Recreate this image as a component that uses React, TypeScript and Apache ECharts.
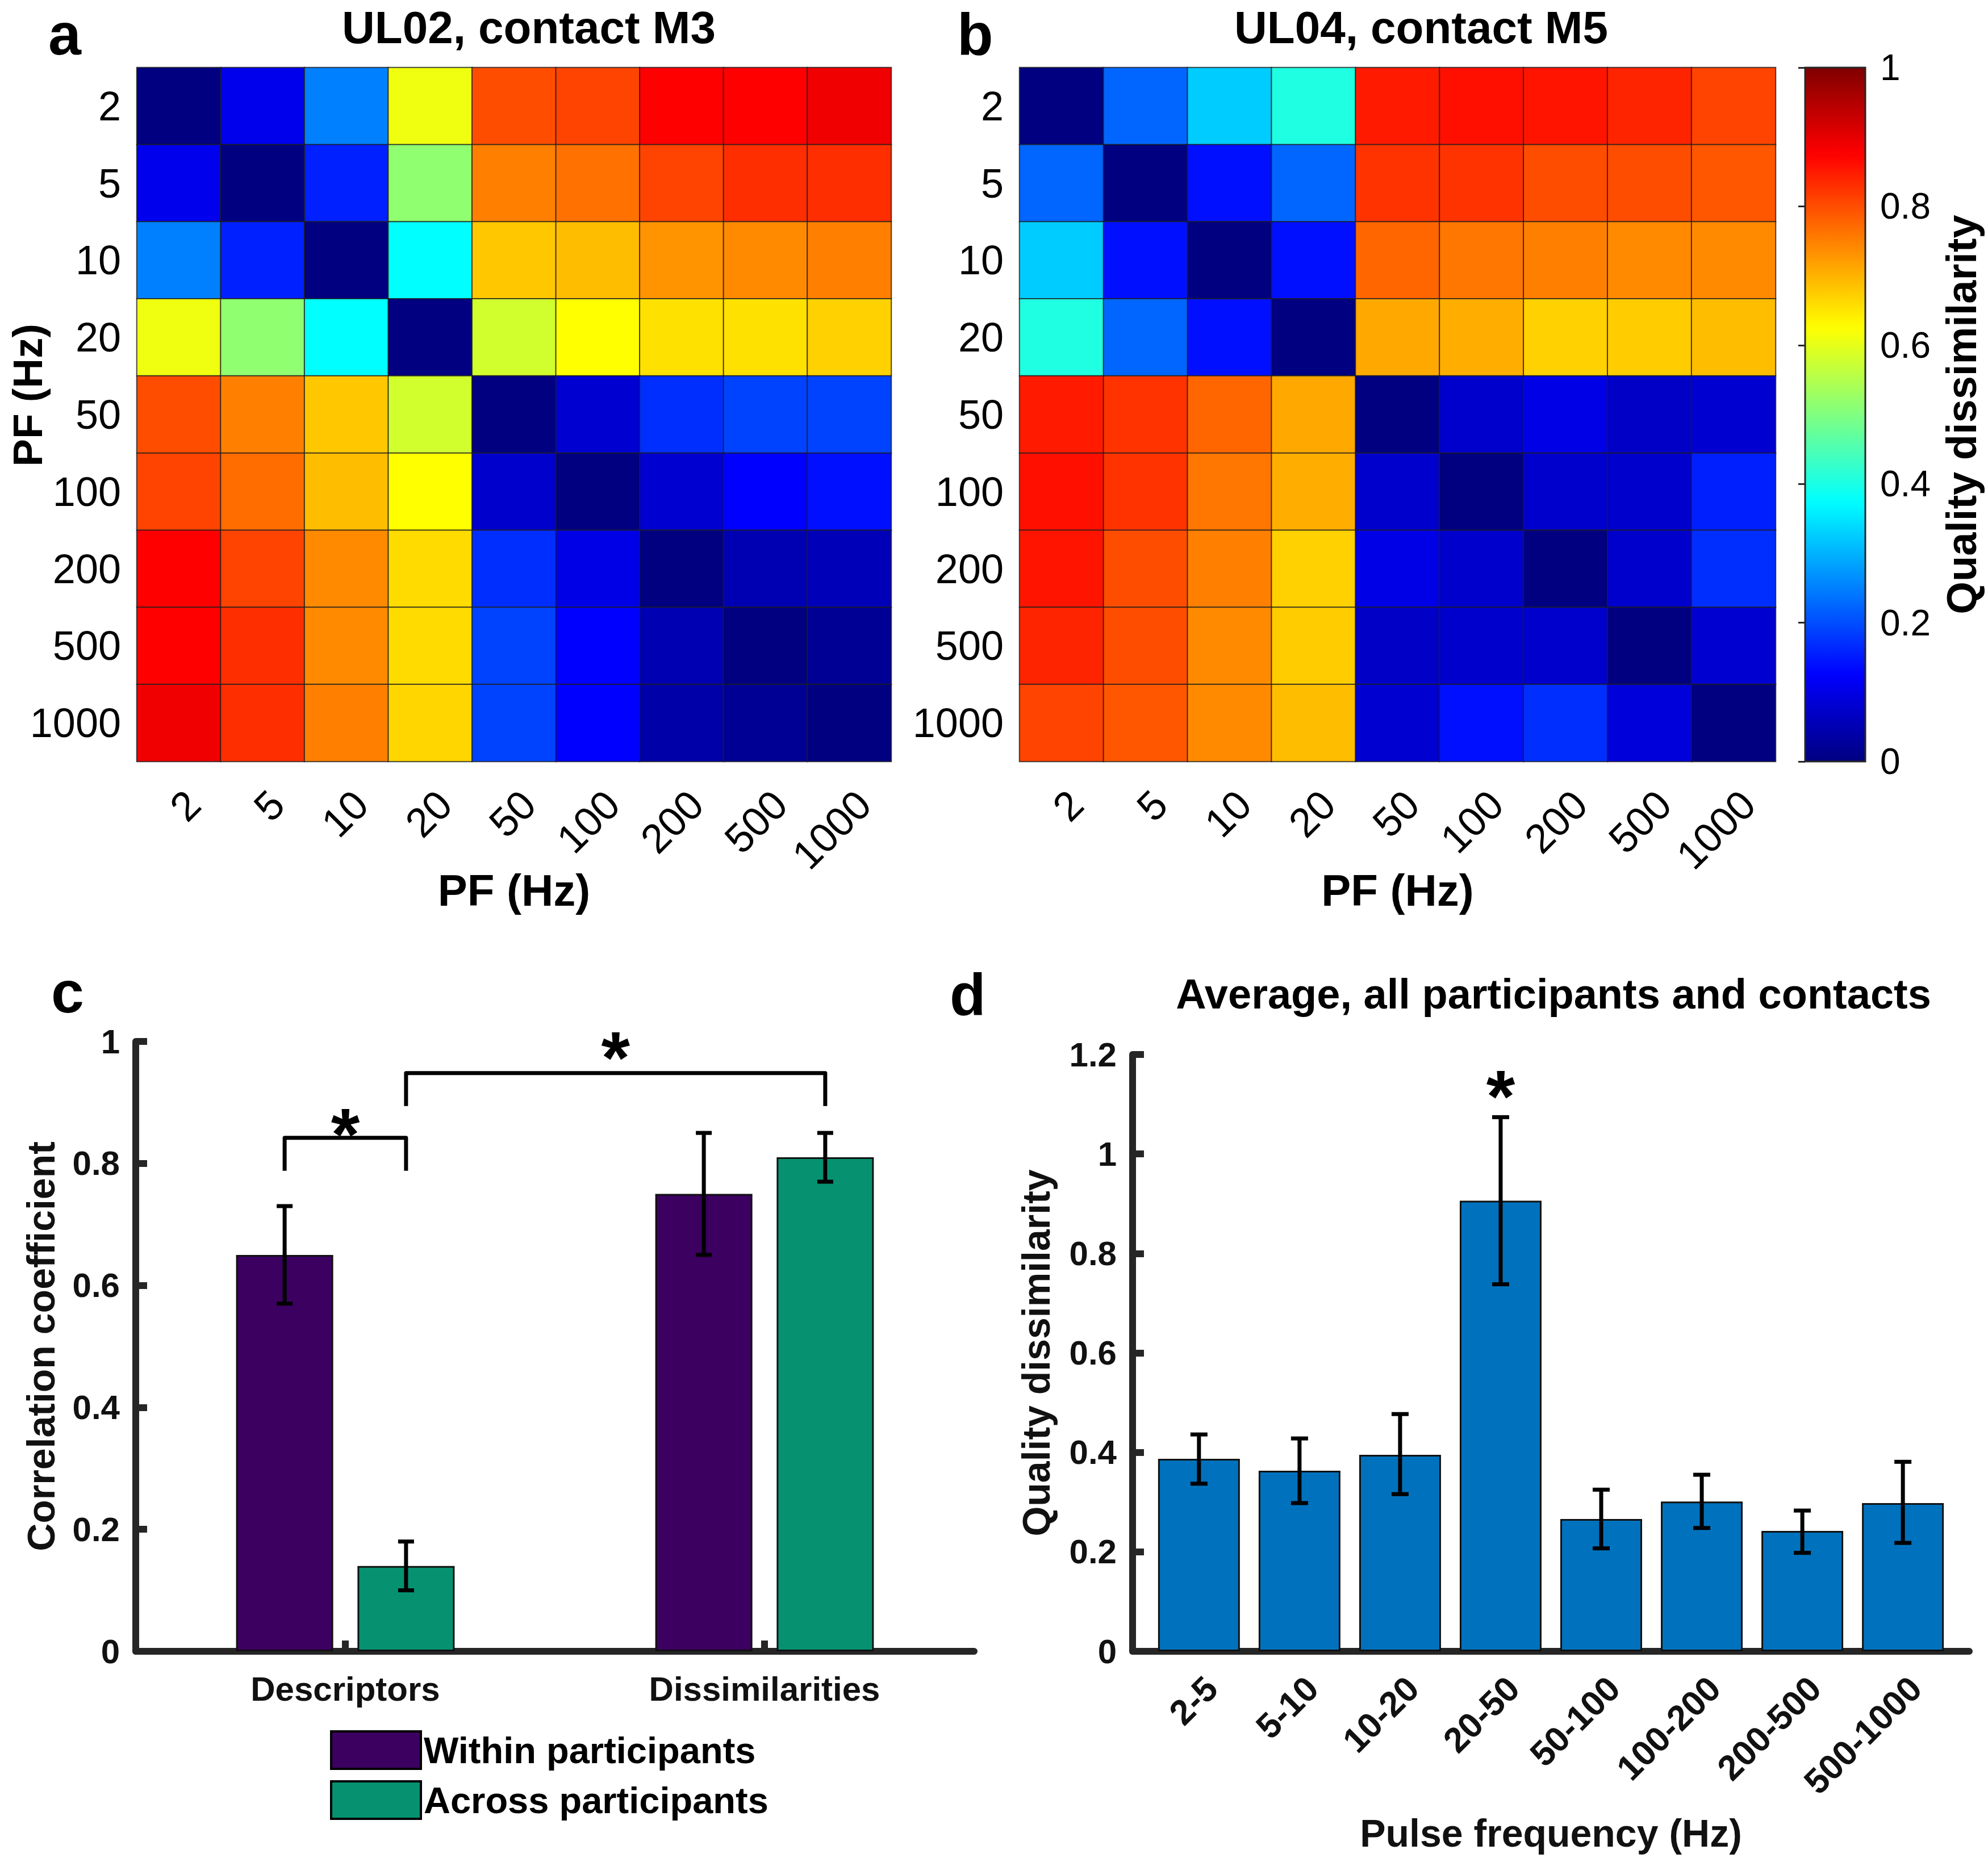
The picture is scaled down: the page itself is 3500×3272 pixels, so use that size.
import React, { useEffect, useRef } from 'react';
import * as echarts from 'echarts';

// ---------- data ----------
const pfLabels = ['2', '5', '10', '20', '50', '100', '200', '500', '1000'];

// rows: PF 2 (top) ... 1000 (bottom); columns: PF 2 ... 1000
const heatA = [
  [0.0, 0.107, 0.25, 0.61, 0.8, 0.81, 0.875, 0.875, 0.89],
  [0.107, 0.0, 0.156, 0.516, 0.75, 0.765, 0.81, 0.83, 0.83],
  [0.25, 0.156, 0.0, 0.375, 0.68, 0.69, 0.73, 0.74, 0.75],
  [0.61, 0.516, 0.375, 0.0, 0.58, 0.625, 0.655, 0.655, 0.67],
  [0.8, 0.75, 0.68, 0.58, 0.0, 0.08, 0.17, 0.19, 0.19],
  [0.81, 0.77, 0.69, 0.625, 0.075, 0.0, 0.08, 0.125, 0.14],
  [0.875, 0.81, 0.74, 0.66, 0.17, 0.1, 0.0, 0.05, 0.055],
  [0.875, 0.83, 0.74, 0.66, 0.19, 0.125, 0.05, 0.0, 0.02],
  [0.89, 0.83, 0.75, 0.665, 0.19, 0.125, 0.04, 0.02, 0.0],
];

const heatB = [
  [0.0, 0.225, 0.325, 0.405, 0.85, 0.86, 0.855, 0.84, 0.81],
  [0.225, 0.0, 0.14, 0.225, 0.825, 0.825, 0.8, 0.8, 0.79],
  [0.325, 0.14, 0.0, 0.14, 0.775, 0.76, 0.75, 0.74, 0.74],
  [0.405, 0.225, 0.14, 0.0, 0.71, 0.705, 0.67, 0.675, 0.69],
  [0.85, 0.825, 0.775, 0.71, 0.0, 0.075, 0.1, 0.07, 0.08],
  [0.86, 0.825, 0.76, 0.705, 0.075, 0.0, 0.075, 0.075, 0.155],
  [0.855, 0.8, 0.75, 0.67, 0.1, 0.075, 0.0, 0.075, 0.17],
  [0.84, 0.8, 0.74, 0.675, 0.07, 0.075, 0.075, 0.0, 0.08],
  [0.81, 0.79, 0.74, 0.69, 0.08, 0.14, 0.17, 0.09, 0.0],
];

const jetColors = ['#000080', '#0000ff', '#0080ff', '#00ffff', '#80ff80', '#ffff00', '#ff8000', '#ff0000', '#800000'];

const groupLabels = ['Descriptors', 'Dissimilarities'];
const withinMean = [0.65, 0.75];
const withinLow = [0.57, 0.65];
const withinHigh = [0.73, 0.85];
const acrossMean = [0.14, 0.81];
const acrossLow = [0.1, 0.77];
const acrossHigh = [0.18, 0.85];
// significance brackets: [fromGroup, fromSide, toGroup, toSide, top, legEnd, starY]
const brackets = [
  [0, -1, 0, 1, 0.842, 0.788, 0.873],
  [0, 1, 1, 1, 0.948, 0.894, 0.998],
];

const bandLabels = ['2-5', '5-10', '10-20', '20-50', '50-100', '100-200', '200-500', '500-1000'];
const bandMean = [0.387, 0.363, 0.395, 0.906, 0.266, 0.301, 0.242, 0.298];
const bandLow = [0.337, 0.298, 0.316, 0.738, 0.207, 0.248, 0.198, 0.218];
const bandHigh = [0.436, 0.428, 0.477, 1.074, 0.325, 0.355, 0.283, 0.381];
const bandStars = [[4, 1.147]];

// ---------- styles ----------
const FONT = '"Liberation Sans", Arial, Helvetica, sans-serif';
const AX = '#262626';
const PURPLE = '#3c0060';
const GREEN = '#069271';
const BLUE = '#0072bd';
const C_BAR_W = 171;
const C_GAP = 0.25;
const C_OFF = (C_BAR_W * (1 + C_GAP)) / 2;
const D_BAR_W = 144;
const ERR_LW = 7;

function errGroup(x: number, yLo: number, yHi: number, half: number) {
  const st = { stroke: '#000', lineWidth: ERR_LW };
  return {
    type: 'group',
    children: [
      { type: 'line', shape: { x1: x, y1: yLo, x2: x, y2: yHi }, style: st },
      { type: 'line', shape: { x1: x - half, y1: yLo, x2: x + half, y2: yLo }, style: st },
      { type: 'line', shape: { x1: x - half, y1: yHi, x2: x + half, y2: yHi }, style: st },
    ],
  };
}

function starText(x: number, y: number) {
  const fs = 130;
  return {
    type: 'text',
    x,
    y: y + 0.21 * fs,
    style: { text: '*', fontSize: fs, fontWeight: 'bold', fontFamily: FONT, fill: '#000', align: 'center', verticalAlign: 'middle' },
  };
}

const letter = (text: string, x: number, y: number) => ({
  type: 'text',
  x,
  y,
  style: { text, fontSize: 104, fontWeight: 'bold', fontFamily: FONT, fill: '#000', align: 'left', verticalAlign: 'middle' },
});

export default function App() {
  const ref = useRef<HTMLDivElement>(null);

  useEffect(() => {
    const chart = echarts.init(ref.current as HTMLDivElement, null, { renderer: 'svg' });
    const toCells = (m: number[][]) => m.flatMap((row, r) => row.map((v, c) => [c, r, v]));

    const heatX = (g: number) => ({
      type: 'category',
      gridIndex: g,
      data: pfLabels,
      axisLine: { show: false },
      axisTick: { show: false },
      splitLine: { show: false },
      axisLabel: { interval: 0, rotate: 45, margin: 38, verticalAlign: 'top', fontSize: 72, fontFamily: FONT, color: '#000' },
      name: 'PF (Hz)',
      nameLocation: 'middle',
      nameGap: 188,
      nameMoveOverlap: false,
      nameTextStyle: { fontSize: 78, fontWeight: 'bold', fontFamily: FONT, color: '#000' },
    });
    const heatY = (g: number, named: boolean) => ({
      type: 'category',
      gridIndex: g,
      data: pfLabels,
      inverse: true,
      axisLine: { show: false },
      axisTick: { show: false },
      splitLine: { show: false },
      axisLabel: { interval: 0, margin: 28, fontSize: 72, fontFamily: FONT, color: '#000' },
      name: named ? 'PF (Hz)' : '',
      nameLocation: 'middle',
      nameGap: 156,
      nameMoveOverlap: false,
      nameTextStyle: { fontSize: 73, fontWeight: 'bold', fontFamily: FONT, color: '#000', padding: [0, 0, 0, 68] },
    });
    const barY = (g: number, max: number, name: string, gap: number) => ({
      type: 'value',
      gridIndex: g,
      min: 0,
      max,
      interval: 0.2,
      axisLine: { show: true, lineStyle: { color: AX, width: 12 } },
      axisTick: { show: true, inside: true, length: 20, lineStyle: { color: AX, width: 12 } },
      splitLine: { show: false },
      axisLabel: { margin: 28, fontSize: 60, fontWeight: 'bold', fontFamily: FONT, color: '#111' },
      name,
      nameLocation: 'middle',
      nameGap: gap,
      nameMoveOverlap: false,
      nameTextStyle: { fontSize: 68, fontWeight: 'bold', fontFamily: FONT, color: '#111' },
    });

    const heatSeries = (m: number[][], i: number) => ({
      type: 'heatmap',
      xAxisIndex: i,
      yAxisIndex: i,
      data: toCells(m),
      itemStyle: { borderColor: 'rgba(30,30,30,0.8)', borderWidth: 2 },
      emphasis: { disabled: true },
      silent: true,
    });

    const noBounds = { outerBoundsMode: 'none', containLabel: false };

    const option: any = {
      animation: false,
      backgroundColor: '#fff',
      textStyle: { fontFamily: FONT },
      grid: [
        { left: 241, top: 119, width: 1328, height: 1222, ...noBounds },
        { left: 1795, top: 119, width: 1331, height: 1222, ...noBounds },
        { left: 3178, top: 119, width: 106, height: 1222, show: true, borderColor: AX, borderWidth: 3, backgroundColor: 'transparent', z: 10, ...noBounds },
        { left: 239, top: 1834, width: 1476, height: 1074, ...noBounds },
        { left: 1994, top: 1857, width: 1473, height: 1051, ...noBounds },
      ],
      xAxis: [
        heatX(0),
        heatX(1),
        { type: 'value', gridIndex: 2, min: 0, max: 1, show: false },
        {
          type: 'category',
          gridIndex: 3,
          data: groupLabels,
          axisLine: { show: true, lineStyle: { color: AX, width: 12 } },
          axisTick: { show: true, inside: true, alignWithLabel: true, length: 19, lineStyle: { color: AX, width: 12 } },
          axisLabel: { margin: 36, fontSize: 60, fontWeight: 'bold', fontFamily: FONT, color: '#111' },
        },
        {
          type: 'value',
          gridIndex: 4,
          min: 0.34,
          max: 8.66,
          axisLine: { show: true, lineStyle: { color: AX, width: 12 } },
          axisTick: { show: false },
          splitLine: { show: false },
          axisLabel: {
            customValues: bandLabels.map((_, i) => i + 1),
            formatter: (v: number) => bandLabels[Math.round(v) - 1] ?? '',
            rotate: 45,
            margin: 33,
            verticalAlign: 'top',
            fontSize: 62,
            fontWeight: 'bold',
            fontFamily: FONT,
            color: '#111',
          },
          name: 'Pulse frequency (Hz)',
          nameLocation: 'middle',
          nameGap: 286,
          nameMoveOverlap: false,
          nameTextStyle: { fontSize: 68, fontWeight: 'bold', fontFamily: FONT, color: '#111' },
        },
      ],
      yAxis: [
        heatY(0, true),
        heatY(1, false),
        {
          type: 'value',
          gridIndex: 2,
          min: 0,
          max: 1,
          interval: 0.2,
          position: 'right',
          z: 10,
          axisLine: { show: false },
          axisTick: { show: true, inside: true, length: 12, lineStyle: { color: AX, width: 3 } },
          splitLine: { show: false },
          axisLabel: { margin: 26, fontSize: 64, fontFamily: FONT, color: '#000' },
          name: 'Quality dissimilarity',
          nameLocation: 'middle',
          nameGap: 132,
          nameMoveOverlap: false,
          nameTextStyle: { fontSize: 74, fontWeight: 'bold', fontFamily: FONT, color: '#000' },
        },
        barY(3, 1, 'Correlation coefficient', 133),
        barY(4, 1.2, 'Quality dissimilarity', 136),
      ],
      visualMap: {
        type: 'continuous',
        min: 0,
        max: 1,
        seriesIndex: [0, 1],
        orient: 'vertical',
        left: 3178,
        top: 119,
        itemWidth: 106,
        itemHeight: 1222,
        padding: 0,
        calculable: false,
        showLabel: false,
        text: null,
        hoverLink: false,
        inRange: { color: jetColors },
      },
      legend: {
        data: ['Within participants', 'Across participants'],
        orient: 'vertical',
        left: 581,
        top: 3047,
        padding: 0,
        itemWidth: 158,
        itemHeight: 66,
        itemGap: 18,
        icon: 'rect',
        selectedMode: false,
        itemStyle: { borderColor: '#000', borderWidth: 4 },
        textStyle: { fontSize: 65, fontWeight: 'bold', fontFamily: FONT, color: '#000' },
      },
      graphic: [
        letter('a', 85, 60),
        letter('b', 1685, 60),
        letter('c', 90, 1747),
        letter('d', 1672, 1751),
        { type: 'text', x: 931, y: 48, style: { text: 'UL02, contact M3', fontSize: 80, fontWeight: 'bold', fontFamily: FONT, fill: '#000', align: 'center', verticalAlign: 'middle' } },
        { type: 'text', x: 2502, y: 48, style: { text: 'UL04, contact M5', fontSize: 80, fontWeight: 'bold', fontFamily: FONT, fill: '#000', align: 'center', verticalAlign: 'middle' } },
        { type: 'text', x: 2735, y: 1750, style: { text: 'Average, all participants and contacts', fontSize: 74, fontWeight: 'bold', fontFamily: FONT, fill: '#000', align: 'center', verticalAlign: 'middle' } },
      ],
      series: [
        heatSeries(heatA, 0),
        heatSeries(heatB, 1),
        {
          type: 'bar',
          name: 'Within participants',
          xAxisIndex: 3,
          yAxisIndex: 3,
          data: withinMean,
          barWidth: C_BAR_W,
          barGap: '25%',
          itemStyle: { color: PURPLE, borderColor: '#111', borderWidth: 3 },
          silent: true,
        },
        {
          type: 'bar',
          name: 'Across participants',
          xAxisIndex: 3,
          yAxisIndex: 3,
          data: acrossMean,
          barWidth: C_BAR_W,
          barGap: '25%',
          itemStyle: { color: GREEN, borderColor: '#111', borderWidth: 3 },
          silent: true,
        },
        {
          type: 'custom',
          name: 'c-errors',
          xAxisIndex: 3,
          yAxisIndex: 3,
          z: 5,
          silent: true,
          data: [
            ...withinMean.map((_, i) => [i, -1, withinLow[i], withinHigh[i]]),
            ...acrossMean.map((_, i) => [i, 1, acrossLow[i], acrossHigh[i]]),
          ],
          renderItem: (params: any, api: any) => {
            const base = api.coord([api.value(0), api.value(2)]);
            const top = api.coord([api.value(0), api.value(3)]);
            const x = base[0] + api.value(1) * C_OFF;
            return errGroup(x, base[1], top[1], 14);
          },
        },
        {
          type: 'custom',
          name: 'c-brackets',
          xAxisIndex: 3,
          yAxisIndex: 3,
          z: 5,
          silent: true,
          data: brackets,
          renderItem: (params: any, api: any) => {
            const p1 = api.coord([api.value(0), api.value(4)]);
            const p2 = api.coord([api.value(2), api.value(4)]);
            const leg = api.coord([api.value(0), api.value(5)])[1];
            const starY = api.coord([api.value(0), api.value(6)])[1];
            const x1 = p1[0] + api.value(1) * C_OFF;
            const x2 = p2[0] + api.value(3) * C_OFF;
            const yTop = p1[1];
            return {
              type: 'group',
              children: [
                {
                  type: 'polyline',
                  shape: { points: [[x1, leg], [x1, yTop], [x2, yTop], [x2, leg]] },
                  style: { stroke: '#000', fill: null, lineWidth: ERR_LW, lineJoin: 'round' },
                },
                starText((x1 + x2) / 2, starY),
              ],
            };
          },
        },
        {
          type: 'bar',
          name: 'band-mean',
          xAxisIndex: 4,
          yAxisIndex: 4,
          data: bandMean.map((v, i) => [i + 1, v]),
          barWidth: D_BAR_W,
          itemStyle: { color: BLUE, borderColor: '#111', borderWidth: 3 },
          silent: true,
        },
        {
          type: 'custom',
          name: 'd-errors',
          xAxisIndex: 4,
          yAxisIndex: 4,
          z: 5,
          silent: true,
          data: bandMean.map((_, i) => [i + 1, bandLow[i], bandHigh[i]]),
          renderItem: (params: any, api: any) => {
            const lo = api.coord([api.value(0), api.value(1)]);
            const hi = api.coord([api.value(0), api.value(2)]);
            return errGroup(lo[0], lo[1], hi[1], 15);
          },
        },
        {
          type: 'custom',
          name: 'd-stars',
          xAxisIndex: 4,
          yAxisIndex: 4,
          z: 5,
          silent: true,
          data: bandStars,
          renderItem: (params: any, api: any) => {
            const p = api.coord([api.value(0), api.value(1)]);
            return starText(p[0], p[1]);
          },
        },
      ],
    };

    chart.setOption(option);
    return () => chart.dispose();
  }, []);

  return (
    <div
      ref={ref}
      style={{ position: 'absolute', left: 0, top: 0, width: 3500, height: 3272, background: '#fff' }}
    />
  );
}
